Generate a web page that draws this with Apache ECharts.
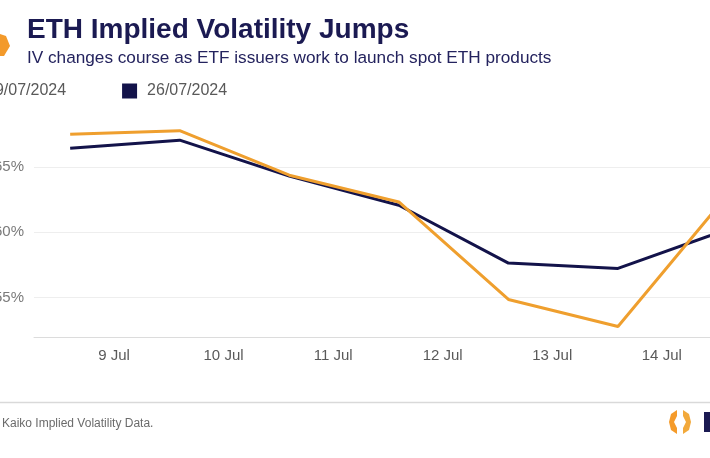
<!DOCTYPE html>
<html>
<head>
<meta charset="utf-8">
<script src="https://cdn.jsdelivr.net/npm/echarts@6/dist/echarts.min.js"></script>
<style>
html,body{margin:0;padding:0;background:#fff;}
#chart{width:710px;height:458px;}
</style>
</head>
<body>
<div id="chart"></div>
<script>
// Day of July for each observation
var days = [8.6, 9.6, 10.6, 11.6, 12.6, 13.6, 14.6];
var seriesNames = ['19/07/2024', '26/07/2024'];
var iv19 = [67.50, 67.76, 64.36, 62.32, 54.87, 52.80, 62.86];
var iv26 = [66.43, 67.04, 64.29, 62.07, 57.65, 57.24, 60.23];
var titleText = 'ETH Implied Volatility Jumps';
var subtitleText = 'IV changes course as ETF issuers work to launch spot ETH products';
var sourceText = 'Kaiko Implied Volatility Data.';

function pairs(xs, ys) { return xs.map(function (x, i) { return [x, ys[i]]; }); }

var chart = echarts.init(document.getElementById('chart'), null, {renderer: 'canvas'});
var ORANGE = '#EF9F2E', NAVY = '#13134A';
chart.setOption({
  animation: false,
  backgroundColor: '#fff',
  title: [
    {text: titleText, left: 22, top: 11, padding: 5,
     textStyle: {fontFamily: 'Liberation Sans', fontWeight: 'bold', fontSize: 28, color: '#1B1A52'}},
    {text: subtitleText, left: 22, top: 45, padding: 5,
     textStyle: {fontFamily: 'Liberation Sans', fontWeight: 'normal', fontSize: 17.2, color: '#24235E'}},
    {text: sourceText, left: -3, top: 413, padding: 5,
     textStyle: {fontFamily: 'Liberation Sans Narrow, Liberation Sans', fontWeight: 'normal', fontSize: 12, color: '#6b6b6b'}}
  ],
  legend: {
    left: -39, top: 83, itemWidth: 15, itemHeight: 15, itemGap: 56, padding: 0,
    icon: 'rect',
    textStyle: {fontFamily: 'Liberation Sans', fontSize: 16, color: '#595959', padding: [0, 0, 0, 5]},
    data: seriesNames
  },
  grid: {left: 34, right: 0, top: 114.5, bottom: 121, containLabel: false, outerBoundsMode: 'none'},
  xAxis: {
    type: 'value', min: 8.27, max: 14.44, minInterval: 1, maxInterval: 1,
    axisLine: {show: true, lineStyle: {color: '#dcdcdc', width: 1}},
    axisTick: {show: false},
    splitLine: {show: false},
    axisLabel: {showMinLabel: false, showMaxLabel: false, margin: 11,
      fontFamily: 'Liberation Sans', fontSize: 15, color: '#595959',
      formatter: function (v) { return Math.round(v) + ' Jul'; }}
  },
  yAxis: {
    type: 'value', min: 52, max: 69, minInterval: 5, maxInterval: 5,
    axisLine: {show: false}, axisTick: {show: false},
    splitLine: {show: true, lineStyle: {color: ['#dcdcdc', '#eeeeee', '#eeeeee', '#eeeeee', 'rgba(0,0,0,0)'], width: 1}},
    axisLabel: {showMinLabel: false, showMaxLabel: false, margin: 10,
      fontFamily: 'Liberation Sans', fontSize: 15, color: '#7a7a7a',
      formatter: function (v) { return v + '%'; }}
  },
  graphic: [
    {type: 'polygon', shape: {points: [[-6, 32], [6, 36], [10, 46], [4, 56], [-6, 56]]}, style: {fill: '#F39A2B'}},
    {type: 'line', shape: {x1: 0, y1: 402.5, x2: 710, y2: 402.5}, style: {stroke: '#d9d9d9', lineWidth: 1.5}},
    {type: 'group', left: 669, top: 410, children: [
      {type: 'polygon', shape: {points: [[8, 0], [2, 4], [0, 12], [2, 20], [8, 24], [8, 18], [5, 12], [8, 6]]}, style: {fill: '#F59B2A'}},
      {type: 'polygon', shape: {points: [[14, 0], [20, 4], [22, 12], [20, 20], [14, 24], [14, 18], [17, 12], [14, 6]]}, style: {fill: '#F2A93B'}},
      {type: 'rect', shape: {x: 35, y: 2, width: 6, height: 20}, style: {fill: '#1B1A52'}}
    ]}
  ],
  series: [
    {name: seriesNames[0], type: 'line', data: pairs(days, iv19), showSymbol: false, symbol: 'none',
     lineStyle: {color: ORANGE, width: 3}, itemStyle: {color: ORANGE}, z: 3},
    {name: seriesNames[1], type: 'line', data: pairs(days, iv26), showSymbol: false, symbol: 'none',
     lineStyle: {color: NAVY, width: 3}, itemStyle: {color: NAVY}, z: 2}
  ]
});
</script>
</body>
</html>
